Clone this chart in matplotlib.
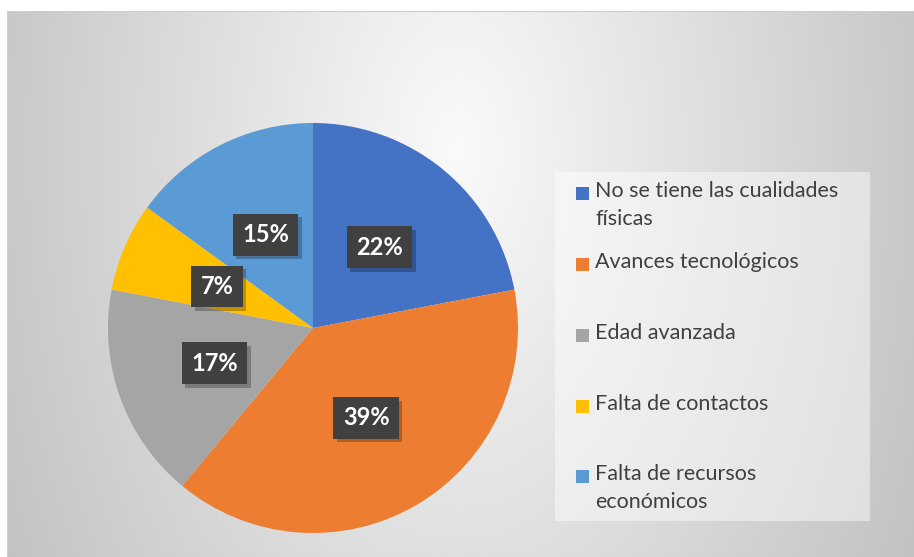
import numpy as np
import matplotlib
matplotlib.use('Agg')
import matplotlib.pyplot as plt
import matplotlib.patheffects as pe
from matplotlib.patches import Rectangle

labels = ['No se tiene las cualidades\nfísicas', 'Avances tecnológicos',
          'Edad avanzada', 'Falta de contactos',
          'Falta de recursos\neconómicos']
values = [22, 39, 17, 7, 15]
colors = ['#4472C4', '#ED7D31', '#A5A5A5', '#FFC000', '#5B9BD5']

W, H = 914, 557
fig = plt.figure(figsize=(W / 100, H / 100), dpi=100)
fig.patch.set_facecolor('white')

# chart area with a soft radial gradient
x0, y0, x1, y1 = 7, 11, 914, 557
bg = fig.add_axes([x0 / W, 1 - y1 / H, (x1 - x0) / W, (y1 - y0) / H])
xx, yy = np.meshgrid(np.arange(x0, x1), np.arange(y0, y1))
d = np.sqrt(((xx - 457) / 470.0) ** 2 + ((yy - 150) / 800.0) ** 2)
g = np.clip(0.98 - 0.2 * d, 0.76, 1)
bg.imshow(np.dstack([g, g, g]), aspect='auto', extent=(0, 1, 0, 1))
bg.set_xlim(0, 1)
bg.set_ylim(0, 1)
bg.set_xticks([])
bg.set_yticks([])
for s in bg.spines.values():
    s.set_color('#d0d0d0')
    s.set_linewidth(0.8)

# pie
cx, cy, r = 313, 328, 205
ax = fig.add_axes([(cx - r) / W, 1 - (cy + r) / H, 2 * r / W, 2 * r / H])
ax.set_facecolor('none')
wedges, texts, autotexts = ax.pie(values, colors=colors, startangle=90,
                                  counterclock=False, radius=1,
                                  autopct='%1.0f%%', pctdistance=0.51,
                                  wedgeprops=dict(linewidth=0))
ax.set_xlim(-1, 1)
ax.set_ylim(-1, 1)
ax.set_aspect('equal')

for t in autotexts:
    t.set_color('white')
    t.set_fontsize(17)
    t.set_fontweight('bold')
    t.set_family('Lato')
    t.set_bbox(dict(boxstyle='square,pad=0.4', facecolor='#404040',
                    edgecolor='none'))
    t.get_bbox_patch().set_path_effects([
        pe.SimplePatchShadow(offset=(2.5, -2.5), alpha=0.25, shadow_rgbFace='black'),
        pe.Normal()])

# legend box
lx0, ly0, lx1, ly1 = 555, 172, 870, 521
fig.patches.append(Rectangle((lx0 / W, 1 - ly1 / H), (lx1 - lx0) / W,
                             (ly1 - ly0) / H, transform=fig.transFigure,
                             facecolor='white', alpha=0.45, edgecolor='none'))
rows = [193, 264, 335, 406, 476]
for lab, col, ry in zip(labels, colors, rows):
    fig.patches.append(Rectangle((576 / W, 1 - (ry + 6.5) / H), 13 / W, 13 / H,
                                 transform=fig.transFigure, facecolor=col,
                                 edgecolor='none'))
    fig.text(595 / W, 1 - (ry - 12) / H, lab, ha='left', va='top',
             fontsize=15.5, family='Lato', color='#404040', linespacing=1.5)

fig.savefig('out.png', dpi=100)
